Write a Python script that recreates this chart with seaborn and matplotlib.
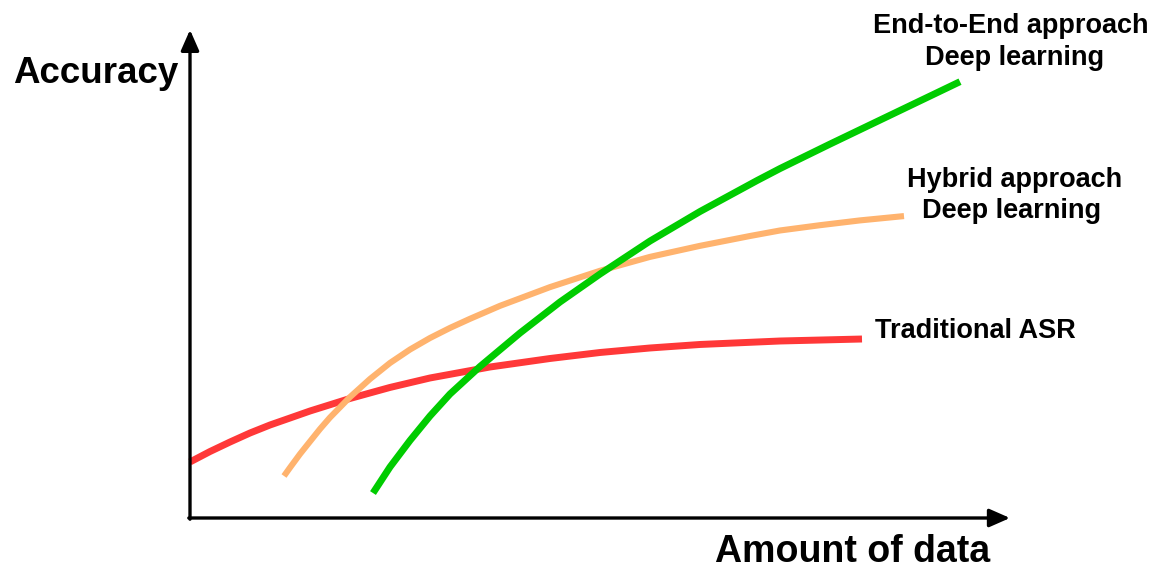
import matplotlib
matplotlib.use("Agg")
import matplotlib.pyplot as plt
import pandas as pd
import seaborn as sns

# Conceptual curves: accuracy vs. amount of data (arbitrary units)
traditional_x = [0.0, 0.25, 0.5, 0.75, 1.0, 1.25, 1.5, 2.0, 2.5, 3.0, 3.75, 4.5,
                 5.125, 5.75, 6.375, 7.375, 8.4]
traditional_y = [1.167, 1.385, 1.583, 1.771, 1.9375, 2.083, 2.229, 2.49, 2.72, 2.917,
                 3.146, 3.323, 3.448, 3.542, 3.615, 3.6875, 3.729]

hybrid_x = [1.175, 1.25, 1.375, 1.5, 1.625, 1.75, 2.0, 2.25, 2.5, 2.75, 3.0, 3.25, 3.5,
            3.875, 4.5, 5.125, 5.75, 6.375, 7.0, 7.375, 7.875, 8.375, 8.925]
hybrid_y = [0.875, 1.05, 1.333, 1.594, 1.854, 2.094, 2.52, 2.896, 3.23, 3.51, 3.75, 3.96,
            4.15, 4.42, 4.81, 5.15, 5.44, 5.67, 5.875, 5.99, 6.10, 6.20, 6.29]

e2e_x = [2.2875, 2.5, 2.75, 3.0, 3.25, 3.625, 4.125, 4.625, 5.125, 5.75, 6.375,
         7.0875, 7.375, 8.0, 8.625, 9.25, 9.625]
e2e_y = [0.52, 1.0625, 1.615, 2.125, 2.583, 3.156, 3.854, 4.5, 5.083, 5.77, 6.385,
         7.03, 7.28, 7.79, 8.29, 8.79, 9.09]

series_names = ["Traditional ASR", "Hybrid approach", "End-to-End approach"]
series_colors = ["#FF3838", "#FFB36E", "#00CC00"]

x_axis_end = 10.25
y_axis_end = 10.17

df = pd.concat([
    pd.DataFrame({"data": traditional_x, "accuracy": traditional_y, "method": series_names[0]}),
    pd.DataFrame({"data": hybrid_x, "accuracy": hybrid_y, "method": series_names[1]}),
    pd.DataFrame({"data": e2e_x, "accuracy": e2e_y, "method": series_names[2]}),
], ignore_index=True)

sns.set_theme(style="white")
plt.rcParams["font.family"] = ["Liberation Sans", "DejaVu Sans"]
plt.rcParams["text.color"] = "black"

W, H = 1160, 578
fig = plt.figure(figsize=(W / 100, H / 100), dpi=100)
ax = fig.add_axes([0, 0, 1, 1])
# 80 px per x unit, 48 px per y unit, origin at (190, 518) px from top-left
ax.set_xlim(-190 / 80, (W - 190) / 80)
ax.set_ylim(-(H - 518) / 48, 518 / 48)
ax.axis("off")

sns.lineplot(data=df, x="data", y="accuracy", hue="method", sort=False,
             palette=dict(zip(series_names, series_colors)), linewidth=5,
             legend=False, ax=ax, estimator=None)
for ln in ax.lines:
    ln.set_solid_capstyle("butt")
    ln.set_solid_joinstyle("round")
ax.lines[1].set_linewidth(4.4)

# Axis arrows
arrow_kw = dict(arrowstyle="-|>,head_length=1.25,head_width=0.55", lw=2.4,
                color="black", shrinkA=0, shrinkB=0, mutation_scale=10)
ax.annotate("", xy=(x_axis_end, 0), xytext=(-0.015, 0), arrowprops=arrow_kw)
ax.annotate("", xy=(0, y_axis_end), xytext=(0, -0.025), arrowprops=arrow_kw)

def px(x, y):
    return x / W, 1 - y / H

bold = dict(fontweight="bold", color="black", va="baseline")
fig.text(*px(13, 83), "Accuracy", fontsize=26.5, ha="left", **bold)
fig.text(*px(715, 562), "Amount of data", fontsize=27, ha="left", **bold)
fig.text(*px(1011, 33), "End-to-End approach", fontsize=19.5, ha="center", **bold)
fig.text(*px(1015, 65), "Deep learning", fontsize=19.5, ha="center", **bold)
fig.text(*px(1015, 187), "Hybrid approach", fontsize=19.5, ha="center", **bold)
fig.text(*px(1012, 218), "Deep learning", fontsize=19.5, ha="center", **bold)
fig.text(*px(875, 338), "Traditional ASR", fontsize=19.5, ha="left", **bold)

fig.savefig("out.png", dpi=100, facecolor="white")
